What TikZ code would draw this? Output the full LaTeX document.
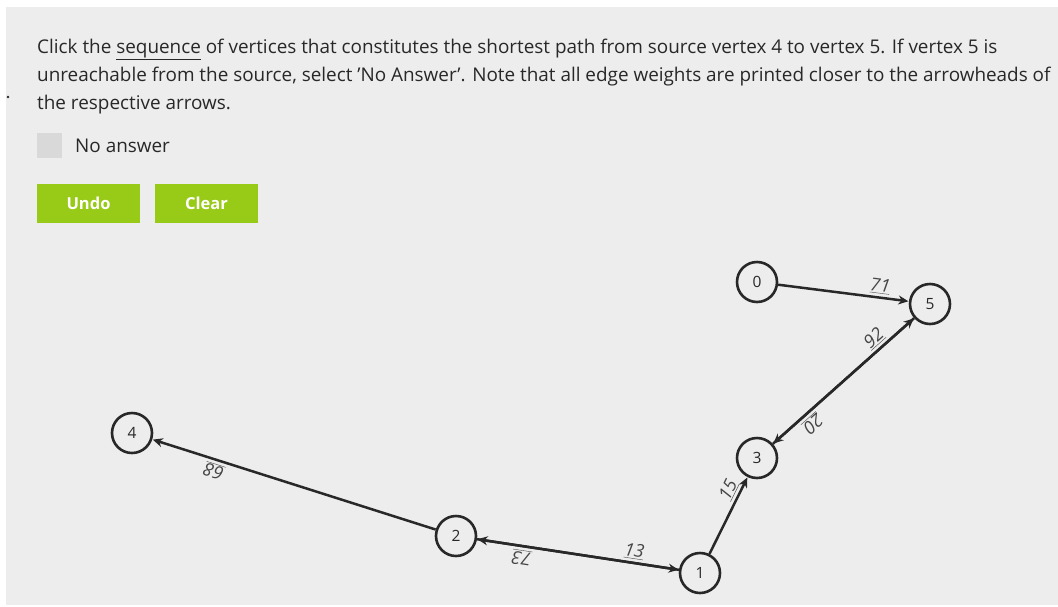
\documentclass[tikz,border=0pt]{standalone}
\usepackage{fontspec}
\setmainfont{Open Sans}
\usetikzlibrary{arrows.meta}
\definecolor{panel}{RGB}{237,237,237}
\definecolor{ink}{RGB}{40,40,40}
\definecolor{btn}{RGB}{152,202,24}
\definecolor{boxgray}{RGB}{217,217,217}
\definecolor{wcol}{RGB}{70,70,70}
\tikzset{
  vertex/.style={circle, draw=ink, line width=2.6pt, fill=panel, minimum size=40pt, inner sep=0pt, font=\fontsize{15.5}{15.5}\selectfont, text=ink},
  edge/.style={draw=ink, line width=2.5pt, -{Stealth[length=10pt,width=9pt]}, shorten >=0.5pt},
  wlab/.style={pos=0.77, sloped, allow upside down, above=1.5pt, inner sep=1pt, text=wcol, font=\fontsize{18}{18}\selectfont\itshape},
  prompt/.style={anchor=base west, inner sep=0pt, text=ink, font=\fontsize{18.9}{18.9}\selectfont},
  button/.style={fill=btn, minimum width=103pt, minimum height=39pt, inner sep=0pt, text=white, font=\fontsize{16.5}{16.5}\selectfont\bfseries},
}
\begin{document}
\begin{tikzpicture}[x=1pt,y=-1pt]
  \useasboundingbox (0,0) rectangle (1058,606);
  \fill[white] (0,0) rectangle (1058,606);
  \fill[panel] (6,7) rectangle (1058,605);
  \fill[ink] (8,97) circle (1.3pt);

  % instructions
  \node[prompt] (l1) at (37,53) {Click the \underline{sequence} of vertices that constitutes the shortest path from source vertex 4 to vertex 5. If vertex 5 is};
  \node[prompt] (l2) at (37,81) {unreachable from the source, select 'No Answer'. Note that all edge weights are printed closer to the arrowheads of};
  \node[prompt] (l3) at (37,109) {the respective arrows.};

  % answer controls
  \node[fill=boxgray, minimum size=25pt, inner sep=0pt] (chk) at (49.5,145) {};
  \node[prompt] (noans) at (75,152) {No answer};
  \node[button] (undo) at (88.5,203.5) {Undo};
  \node[button] (clear) at (206.5,203.5) {Clear};

  % graph vertices
  \node[vertex] (n0) at (757,282) {0};
  \node[vertex] (n5) at (930,304) {5};
  \node[vertex] (n3) at (757,458) {3};
  \node[vertex] (n4) at (132,433) {4};
  \node[vertex] (n2) at (456,536) {2};
  \node[vertex] (n1) at (700,573) {1};

  % weighted directed edges
  \draw[edge] (n0) -- node[wlab] {\underline{71}} (n5);
  \draw[edge] (n3) -- node[wlab] {\underline{92}} (n5);
  \draw[edge] (n5) -- node[wlab] {\underline{20}} (n3);
  \draw[edge] (n1) -- node[wlab] {\underline{15}} (n3);
  \draw[edge] (n2) -- node[wlab] {\underline{13}} (n1);
  \draw[edge] (n1) -- node[wlab] {\underline{73}} (n2);
  \draw[edge] (n2) -- node[wlab] {\underline{68}} (n4);
\end{tikzpicture}
\end{document}
